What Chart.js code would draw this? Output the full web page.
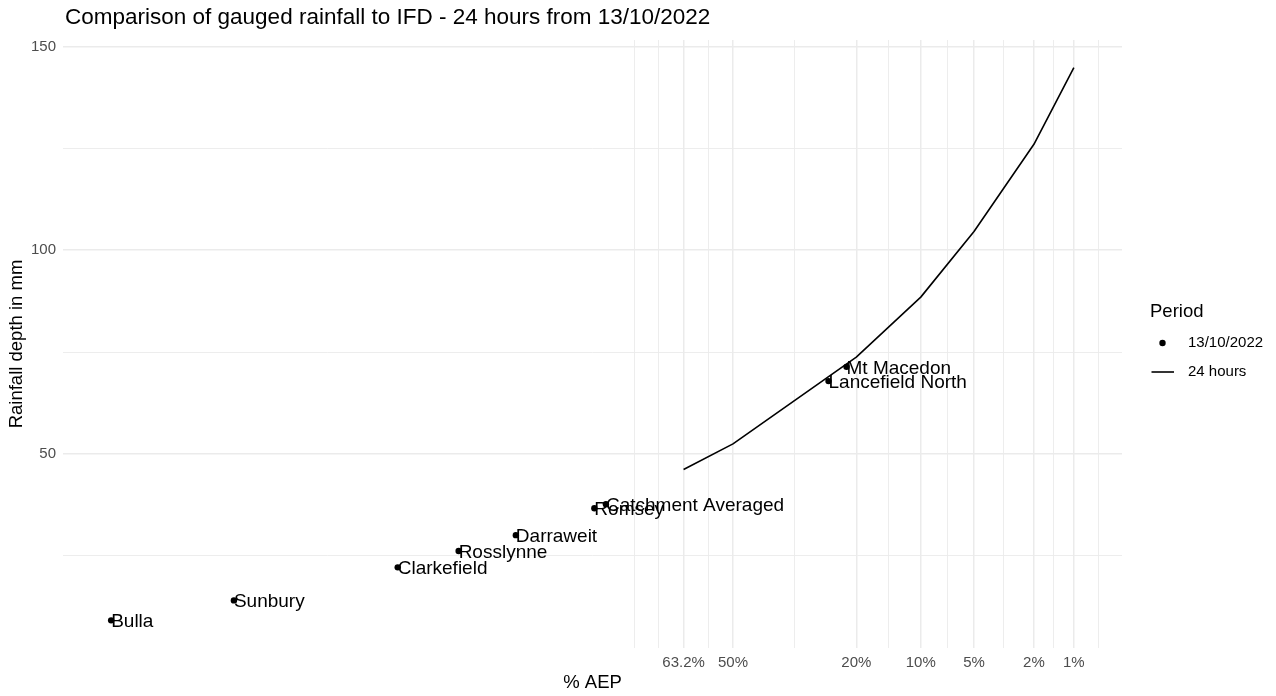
<!DOCTYPE html>
<html>
<head>
<meta charset="utf-8">
<script src="https://cdn.jsdelivr.net/npm/chart.js@4/dist/chart.umd.min.js"></script>
<style>
  html, body { margin: 0; padding: 0; background: #ffffff; }
  canvas { display: block; }
</style>
</head>
<body>
<canvas id="c" width="1276" height="696"></canvas>
<script>
// ---------------- data ----------------
const chartTitle = "Comparison of gauged rainfall to IFD - 24 hours from 13/10/2022";
const stationNames = ["Bulla", "Sunbury", "Clarkefield", "Rosslynne", "Darraweit", "Romsey", "Catchment Averaged", "Lancefield North", "Mt Macedon"];
const stationAEP   = [99.9989, 99.9670, 98.893, 96.94, 93.08, 82.79, 80.70, 25.72, 21.92];   // % AEP
const stationDepth = [9.2, 14.1, 22.2, 26.2, 30.1, 36.7, 37.7, 67.9, 71.4];                 // mm

const ifdAEP   = [63.2, 50, 20, 10, 5, 2, 1];                 // % AEP
const ifdDepth = [46.2, 52.5, 73.8, 88.5, 104.6, 126.0, 144.8]; // mm

const xBreakAEP    = [63.2, 50, 20, 10, 5, 2, 1];
const xBreakLabels = ["63.2%", "50%", "20%", "10%", "5%", "2%", "1%"];
const yBreaks      = [50, 100, 150];
const yBreakLabels = ["50", "100", "150"];

const legendTitle = "Period";
const legendPoint = "13/10/2022";
const legendLine  = "24 hours";

// ------------- probability (normal) axis transform -------------
function qnorm(p) {
  const a = [-3.969683028665376e+01, 2.209460984245205e+02, -2.759285104469687e+02, 1.383577518672690e+02, -3.066479806614716e+01, 2.506628277459239e+00];
  const b = [-5.447609879822406e+01, 1.615858368580409e+02, -1.556989798598866e+02, 6.680131188771972e+01, -1.328068155288572e+01];
  const c = [-7.784894002430293e-03, -3.223964580411365e-01, -2.400758277161838e+00, -2.549732539343734e+00, 4.374664141464968e+00, 2.938163982698783e+00];
  const d = [7.784695709041462e-03, 3.224671290700398e-01, 2.445134137142996e+00, 3.754408661907416e+00];
  const pl = 0.02425, ph = 1 - pl;
  let q, r;
  if (p < pl) {
    q = Math.sqrt(-2 * Math.log(p));
    return (((((c[0]*q+c[1])*q+c[2])*q+c[3])*q+c[4])*q+c[5]) / ((((d[0]*q+d[1])*q+d[2])*q+d[3])*q+1);
  }
  if (p <= ph) {
    q = p - 0.5; r = q*q;
    return (((((a[0]*r+a[1])*r+a[2])*r+a[3])*r+a[4])*r+a[5])*q / (((((b[0]*r+b[1])*r+b[2])*r+b[3])*r+b[4])*r+1);
  }
  q = Math.sqrt(-2 * Math.log(1 - p));
  return -(((((c[0]*q+c[1])*q+c[2])*q+c[3])*q+c[4])*q+c[5]) / ((((d[0]*q+d[1])*q+d[2])*q+d[3])*q+1);
}
const probit = aep => qnorm(1 - aep / 100);

// ------------- scale limits (ggplot-like 5% expansion) -------------
const allX = stationAEP.concat(ifdAEP).map(probit);
const allY = stationDepth.concat(ifdDepth);
const xMinD = Math.min(...allX), xMaxD = Math.max(...allX);
const yMinD = Math.min(...allY), yMaxD = Math.max(...allY);
const xLo = xMinD - 0.05 * (xMaxD - xMinD), xHi = xMaxD + 0.05 * (xMaxD - xMinD);
const yLo = yMinD - 0.05 * (yMaxD - yMinD), yHi = yMaxD + 0.05 * (yMaxD - yMinD);

// major + minor grid (ggplot regular minor breaks)
function gridWithMinor(majors, labels, lo, hi) {
  let b = majors.slice();
  const bd = b[1] - b[0];
  if (lo < Math.min(...b)) b = [b[0] - bd].concat(b);
  if (hi > Math.max(...b)) b = b.concat([b[b.length - 1] + bd]);
  const out = [];
  for (let i = 0; i < b.length - 1; i++) {
    out.push({ v: b[i] });
    out.push({ v: (b[i] + b[i+1]) / 2 });
  }
  out.push({ v: b[b.length - 1] });
  return out.filter(t => t.v >= lo && t.v <= hi).map(t => {
    const k = majors.indexOf(t.v);
    return { v: t.v, major: k >= 0, label: k >= 0 ? labels[k] : "" };
  });
}
const xGrid = gridWithMinor(xBreakAEP.map(probit), xBreakLabels, xLo, xHi);
const yGrid = gridWithMinor(yBreaks, yBreakLabels, yLo, yHi);

const FONT = "'Liberation Sans', Arial, 'DejaVu Sans', sans-serif";

// ------------- plugin: title, point labels, legend -------------
const extras = {
  id: 'extras',
  afterDatasetsDraw(chart) {
    const ctx = chart.ctx;
    const xs = chart.scales.x, ys = chart.scales.y;
    ctx.save();
    ctx.fillStyle = '#000000';
    ctx.font = `19px ${FONT}`;
    ctx.textAlign = 'left';
    ctx.textBaseline = 'middle';
    stationNames.forEach((n, i) => {
      const px = xs.getPixelForValue(probit(stationAEP[i]));
      const py = ys.getPixelForValue(stationDepth[i]);
      ctx.fillText(n, px, py + 1.5);
    });
    ctx.restore();
  },
  afterDraw(chart) {
    const ctx = chart.ctx;
    const ca = chart.chartArea;
    ctx.save();
    // title
    ctx.fillStyle = '#000000';
    ctx.font = `22.5px ${FONT}`;
    ctx.textAlign = 'left';
    ctx.textBaseline = 'middle';
    ctx.fillText(chartTitle, ca.left + 2, 18);
    // legend
    const lx = ca.right + 28;
    ctx.font = `18.5px ${FONT}`;
    ctx.fillText(legendTitle, lx, 312);
    ctx.font = `15px ${FONT}`;
    ctx.beginPath();
    ctx.arc(lx + 12.5, 343, 3.2, 0, Math.PI * 2);
    ctx.fill();
    ctx.fillText(legendPoint, lx + 38, 343);
    ctx.strokeStyle = '#000000';
    ctx.lineWidth = 1.6;
    ctx.beginPath();
    ctx.moveTo(lx + 1.5, 372);
    ctx.lineTo(lx + 24, 372);
    ctx.stroke();
    ctx.fillText(legendLine, lx + 38, 372);
    ctx.restore();
  }
};

new Chart(document.getElementById('c'), {
  type: 'scatter',
  data: {
    datasets: [
      {
        label: legendLine,
        type: 'line',
        data: ifdAEP.map((a, i) => ({ x: probit(a), y: ifdDepth[i] })),
        borderColor: '#000000',
        borderWidth: 1.6,
        borderJoinStyle: 'round',
        pointRadius: 0,
        pointHoverRadius: 0,
        fill: false,
        tension: 0,
        showLine: true
      },
      {
        label: legendPoint,
        data: stationAEP.map((a, i) => ({ x: probit(a), y: stationDepth[i] })),
        backgroundColor: '#000000',
        borderColor: '#000000',
        borderWidth: 0,
        pointRadius: 3.2,
        pointHoverRadius: 3.2
      }
    ]
  },
  options: {
    responsive: false,
    animation: false,
    events: [],
    layout: { padding: { left: 0, right: 154, top: 40, bottom: 0 } },
    plugins: { legend: { display: false }, tooltip: { enabled: false }, title: { display: false } },
    scales: {
      x: {
        type: 'linear',
        min: xLo,
        max: xHi,
        afterBuildTicks: s => { s.ticks = xGrid.map(t => ({ value: t.v })); },
        afterFit: s => { s.height = 48; },
        ticks: {
          autoSkip: false, maxRotation: 0, minRotation: 0, padding: 6,
          color: '#4d4d4d', font: { family: FONT, size: 15 },
          callback: (v, i) => xGrid[i] ? xGrid[i].label : ''
        },
        grid: {
          drawTicks: false,
          color: '#ebebeb',
          lineWidth: c => (c.index !== undefined && xGrid[c.index] && xGrid[c.index].major) ? 1.5 : 0.9
        },
        border: { display: false },
        title: { display: true, text: '% AEP', color: '#000000', font: { family: FONT, size: 18.5 }, padding: { top: 0, bottom: 2 } }
      },
      y: {
        type: 'linear',
        min: yLo,
        max: yHi,
        afterBuildTicks: s => { s.ticks = yGrid.map(t => ({ value: t.v })); },
        afterFit: s => { s.width = 63; },
        ticks: {
          autoSkip: false, padding: 7,
          color: '#4d4d4d', font: { family: FONT, size: 15 },
          callback: (v, i) => yGrid[i] ? yGrid[i].label : ''
        },
        grid: {
          drawTicks: false,
          color: '#ebebeb',
          lineWidth: c => (c.index !== undefined && yGrid[c.index] && yGrid[c.index].major) ? 1.5 : 0.9
        },
        border: { display: false },
        title: { display: true, text: 'Rainfall depth in mm', color: '#000000', font: { family: FONT, size: 18.5 }, padding: { top: 6, bottom: 0 } }
      }
    }
  },
  plugins: [extras]
});
</script>
</body>
</html>
